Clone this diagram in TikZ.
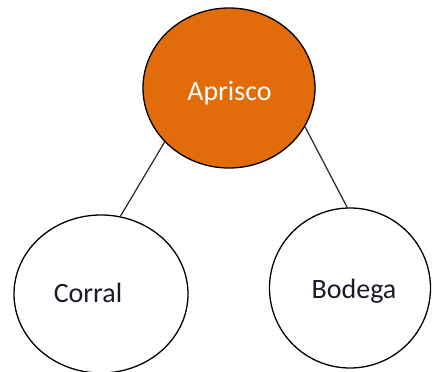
\documentclass[tikz,border=0pt]{standalone}
\usepackage{fontspec}
\setmainfont{Carlito}
\usetikzlibrary{shapes.geometric}
\definecolor{aporange}{HTML}{E36C0A}
\definecolor{txtdark}{HTML}{1A1A2A}
\tikzset{
  bubble/.style={ellipse, draw=black, line width=1.3pt, inner sep=0pt},
  lbl/.style={anchor=base, inner sep=0pt, font=\fontsize{28}{34}\selectfont},
  link/.style={draw=black!85, line width=1.2pt}
}
\begin{document}
\begin{tikzpicture}[x=1pt,y=-1pt]
\useasboundingbox (0,0) rectangle (432,372);
\node[bubble, fill=aporange, minimum width=172pt, minimum height=160pt] (top) at (229,88) {};
\node[bubble, fill=white, minimum width=174pt, minimum height=158pt] (left) at (101,294) {};
\node[bubble, fill=white, minimum width=161pt, minimum height=160pt] (right) at (350,288) {};
\node[lbl, text=white] (ta) at (229.5,100) {Aprisco};
\node[lbl, text=txtdark] (tc) at (88,302) {Corral};
\node[lbl, text=txtdark] (tb) at (354,298) {Bodega};
\draw[link] (top.220.8) -- (left.76.3);
\draw[link] (top.333.4) -- (right.92.9);
\end{tikzpicture}
\end{document}
